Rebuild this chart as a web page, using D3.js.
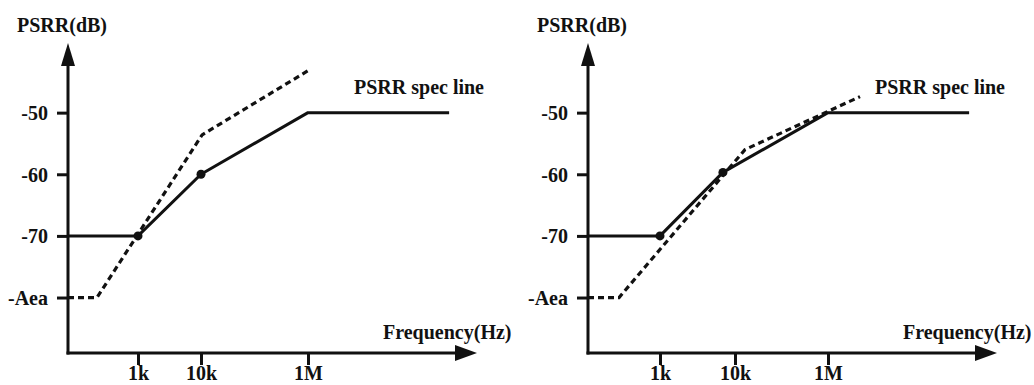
<!DOCTYPE html>
<html>
<head>
<meta charset="utf-8">
<script src="https://cdn.jsdelivr.net/npm/d3@7"></script>
<style>
  html, body { margin: 0; padding: 0; background: #fff; }
  svg { display: block; }
  text { font-family: "Liberation Serif", "Times New Roman", serif; font-weight: bold; fill: #111; }
</style>
</head>
<body>
<svg id="chart" width="1034" height="385"></svg>
<script>
// ---------- data ----------
const yTickValues = [-50, -60, -70, -80];
const yTickLabels = ["-50", "-60", "-70", "-Aea"];
const xTickValues = [1e3, 1e4, 1e6];
const xTickLabels = ["1k", "10k", "1M"];
const yAxisTitle = "PSRR(dB)";
const xAxisTitle = "Frequency(Hz)";
const specTitle = "PSRR spec line";

// left panel
const specFreqA = [100, 1e3, 1e4, 1e6, 3.2e8];
const specDbA   = [-70, -70, -60, -50, -50];
const dotFreqA  = [1e3, 1e4];
const dotDbA    = [-70, -60];
const measFreqA = [100, 260, 1.05e4, 1e6];
const measDbA   = [-80, -80, -53.6, -43.2];

// right panel
const specFreqB = [100, 1e3, 6.9e3, 1e6, 3.2e8];
const specDbB   = [-70, -70, -59.7, -50, -50];
const dotFreqB  = [1e3, 6.9e3];
const dotDbB    = [-70, -59.7];
const measFreqB = [100, 270, 1.64e4, 3.7e6];
const measDbB   = [-80, -80, -56, -47.4];

// ---------- layout ----------
const svg = d3.select("#chart");
const ink = "#111";
const fs = 20;
const xDomain = [100, 1e3, 1e4, 1e6, 1e9];

const panels = [
  { range: [68, 138, 201, 308, 477], spec: [specFreqA, specDbA], dots: [dotFreqA, dotDbA], meas: [measFreqA, measDbA], titleX: 17, specX: 354, freqX: 383 },
  { range: [588, 660, 735, 828, 997], spec: [specFreqB, specDbB], dots: [dotFreqB, dotDbB], meas: [measFreqB, measDbB], titleX: 537, specX: 875, freqX: 903 }
];

const y = d3.scaleLinear().domain([-89, -38.7]).range([353, 43]);
const zip = (a, b) => a.map((v, i) => [v, b[i]]);

panels.forEach(p => {
  const x = d3.scaleLog().domain(xDomain).range(p.range);
  const g = svg.append("g");
  const x0 = p.range[0];
  const y0 = y.range()[0];
  const xEnd = p.range[p.range.length - 1];
  const yTop = y.range()[1];

  // y axis ticks
  const yAx = d3.axisLeft(y).tickValues(yTickValues)
    .tickFormat((d, i) => yTickLabels[i]).tickSize(11).tickPadding(9);
  const gy = g.append("g").attr("transform", `translate(${x0},0)`).call(yAx);
  gy.select(".domain").remove();
  gy.selectAll(".tick line").attr("stroke", ink).attr("stroke-width", 3);
  gy.selectAll(".tick text").attr("font-size", fs).attr("font-family", null).attr("fill", ink).attr("dy", "0.34em");

  // x axis ticks
  const xAx = d3.axisBottom(x).tickValues(xTickValues)
    .tickFormat((d, i) => xTickLabels[i]).tickSize(12).tickPadding(1);
  const gx = g.append("g").attr("transform", `translate(0,${y0})`).call(xAx);
  gx.select(".domain").remove();
  gx.selectAll(".tick line").attr("stroke", ink).attr("stroke-width", 3);
  gx.selectAll(".tick text").attr("font-size", fs).attr("font-family", null).attr("fill", ink);

  // axis lines with arrows
  g.append("line").attr("x1", x0).attr("y1", y0 + 1.5).attr("x2", x0).attr("y2", yTop + 20)
    .attr("stroke", ink).attr("stroke-width", 3);
  g.append("path").attr("d", `M${x0},${yTop} L${x0 - 7},${yTop + 23} L${x0 + 7},${yTop + 23} Z`).attr("fill", ink);
  g.append("line").attr("x1", x0 - 1.5).attr("y1", y0).attr("x2", xEnd - 20).attr("y2", y0)
    .attr("stroke", ink).attr("stroke-width", 3);
  g.append("path").attr("d", `M${xEnd},${y0} L${xEnd - 22},${y0 - 8} L${xEnd - 22},${y0 + 8} Z`).attr("fill", ink);

  const line = d3.line().x(d => x(d[0])).y(d => y(d[1]));

  // spec line
  g.append("path").datum(zip(p.spec[0], p.spec[1])).attr("d", line)
    .attr("fill", "none").attr("stroke", ink).attr("stroke-width", 3).attr("stroke-linejoin", "round");
  // measured (dashed)
  g.append("path").datum(zip(p.meas[0], p.meas[1])).attr("d", line)
    .attr("fill", "none").attr("stroke", ink).attr("stroke-width", 3.2).attr("stroke-dasharray", "6,4");
  // dots
  g.selectAll("circle.dot").data(zip(p.dots[0], p.dots[1])).join("circle")
    .attr("class", "dot").attr("cx", d => x(d[0])).attr("cy", d => y(d[1])).attr("r", 4.5).attr("fill", ink);

  // titles
  g.append("text").attr("x", p.titleX).attr("y", 32).attr("font-size", fs).text(yAxisTitle);
  g.append("text").attr("x", p.specX).attr("y", 94).attr("font-size", fs).text(specTitle);
  g.append("text").attr("x", p.freqX).attr("y", 339).attr("font-size", fs).text(xAxisTitle);
});
</script>
</body>
</html>
